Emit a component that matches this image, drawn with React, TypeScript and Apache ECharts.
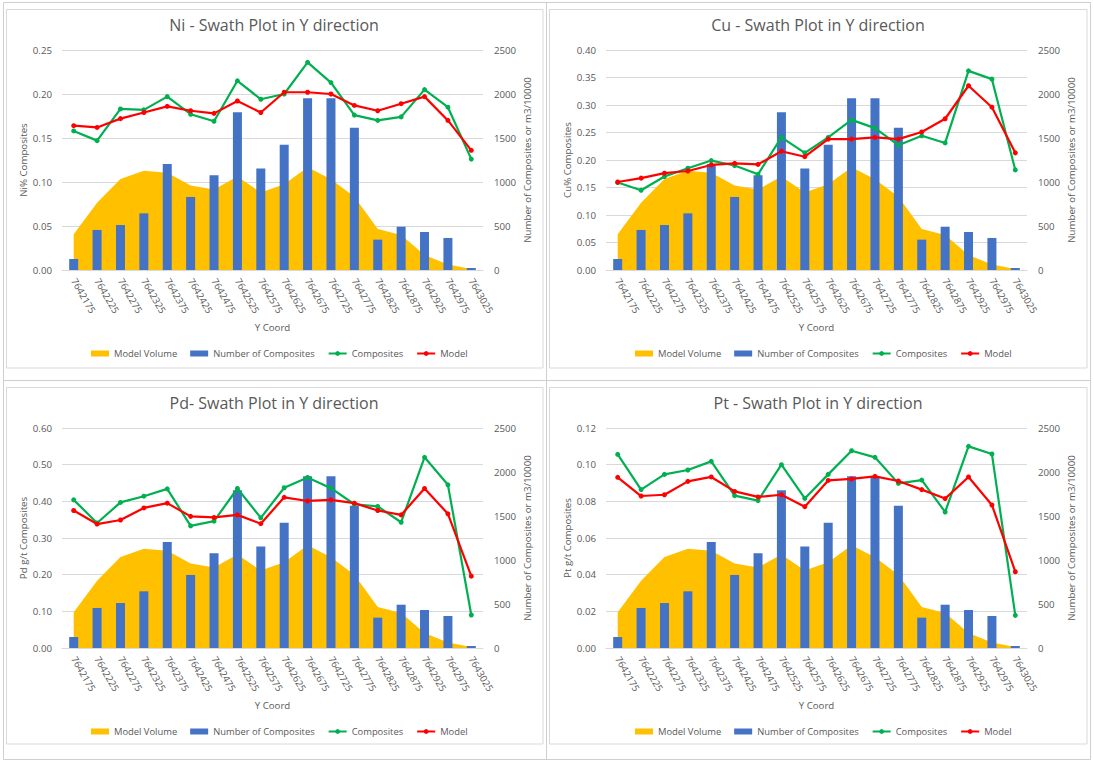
import React, { useEffect, useRef } from "react";
import * as echarts from "echarts";

const categories = [
  "7642175", "7642225", "7642275", "7642325", "7642375", "7642425",
  "7642475", "7642525", "7642575", "7642625", "7642675", "7642725",
  "7642775", "7642825", "7642875", "7642925", "7642975", "7643025",
];

const modelVolume = [405, 765, 1035, 1128, 1105, 960, 915, 1062, 880, 975, 1167, 1030, 833, 465, 398, 170, 63, 10];
const numComposites = [125, 455, 511, 644, 1205, 830, 1076, 1792, 1152, 1424, 1951, 1951, 1617, 345, 492, 432, 364, 23];

const niComposites = [0.158, 0.147, 0.183, 0.182, 0.197, 0.177, 0.169, 0.215, 0.194, 0.2, 0.236, 0.213, 0.176, 0.17, 0.174, 0.205, 0.185, 0.126];
const niModel = [0.164, 0.162, 0.172, 0.179, 0.186, 0.181, 0.178, 0.192, 0.179, 0.202, 0.202, 0.2, 0.187, 0.181, 0.189, 0.197, 0.17, 0.136];

const cuComposites = [0.159, 0.145, 0.17, 0.185, 0.199, 0.19, 0.174, 0.241, 0.213, 0.241, 0.273, 0.258, 0.227, 0.244, 0.231, 0.362, 0.347, 0.182];
const cuModel = [0.16, 0.167, 0.176, 0.18, 0.191, 0.194, 0.192, 0.216, 0.206, 0.238, 0.238, 0.241, 0.238, 0.251, 0.275, 0.335, 0.296, 0.213];

const pdComposites = [0.404, 0.341, 0.397, 0.414, 0.434, 0.333, 0.346, 0.435, 0.355, 0.437, 0.465, 0.436, 0.392, 0.386, 0.343, 0.52, 0.445, 0.09];
const pdModel = [0.375, 0.338, 0.349, 0.382, 0.395, 0.359, 0.356, 0.363, 0.339, 0.411, 0.401, 0.404, 0.395, 0.375, 0.363, 0.435, 0.366, 0.196];

const ptComposites = [0.1056, 0.0864, 0.0947, 0.0971, 0.1018, 0.0831, 0.0804, 0.1, 0.0816, 0.0947, 0.1076, 0.104, 0.0898, 0.0916, 0.0742, 0.11, 0.1058, 0.0178];
const ptModel = [0.0931, 0.0829, 0.0836, 0.0909, 0.0933, 0.0854, 0.0824, 0.0836, 0.0771, 0.0914, 0.0922, 0.0936, 0.0911, 0.0864, 0.0815, 0.0933, 0.078, 0.0416];

const panelTitles = [
  "Ni - Swath Plot in Y direction",
  "Cu - Swath Plot in Y direction",
  "Pd- Swath Plot in Y direction",
  "Pt - Swath Plot in Y direction",
];
const leftAxisNames = ["Ni% Composites", "Cu% Composites", "Pd g/t Composites", "Pt g/t Composites"];
const leftMax = [0.25, 0.4, 0.6, 0.12];
const leftInterval = [0.05, 0.05, 0.1, 0.02];
const rightMax = 2500;
const rightInterval = 500;
const compositesSets = [niComposites, cuComposites, pdComposites, ptComposites];
const modelSets = [niModel, cuModel, pdModel, ptModel];
const rightAxisName = "Number of Composites or m3/10000";
const xAxisName = "Y Coord";
const legendNames = ["Model Volume", "Number of Composites", "Composites", "Model"];

const FONT = "'Open Sans', 'Noto Sans', sans-serif";
const TXT = "#595959";
const GRIDLINE = "#D9D9D9";
const C_AREA = "#FFC000";
const C_BAR = "#4472C4";
const C_GREEN = "#00B050";
const C_RED = "#FF0000";

const offsets = [
  [0, 0],
  [544, 0],
  [0, 378],
  [544, 378],
];

export default function App() {
  const ref = useRef<HTMLDivElement>(null);

  useEffect(() => {
    if (!ref.current) return;
    const chart = echarts.init(ref.current, undefined, { renderer: "svg" });

    const titles: any[] = [];
    const legends: any[] = [];
    const grids: any[] = [];
    const xAxes: any[] = [];
    const yAxes: any[] = [];
    const series: any[] = [];

    offsets.forEach(([ox, oy], i) => {
      titles.push({
        text: panelTitles[i],
        left: ox + 274,
        top: oy + 17,
        textAlign: "center",
        padding: 0,
        textStyle: { fontFamily: FONT, fontSize: 16, fontWeight: "normal", color: TXT },
      });
      legends.push({
        left: ox + 91,
        top: oy + 349,
        padding: 0,
        orient: "horizontal",
        itemWidth: 18,
        itemHeight: 6,
        itemGap: 13,
        selectedMode: false,
        textStyle: { fontFamily: FONT, fontSize: 9.4, color: TXT },
        data: [
          { name: legendNames[0], icon: "rect", itemStyle: { color: C_AREA } },
          { name: legendNames[1], icon: "rect", itemStyle: { color: C_BAR } },
          { name: legendNames[2] },
          { name: legendNames[3] },
        ],
      });
      grids.push({
        left: ox + 62,
        top: oy + 50,
        width: 421,
        height: 220,
        containLabel: false,
        outerBoundsMode: "none",
      });
      xAxes.push({
        type: "category",
        gridIndex: i,
        data: categories,
        boundaryGap: true,
        name: xAxisName,
        nameLocation: "middle",
        nameGap: 52,
        nameTextStyle: { fontFamily: FONT, fontSize: 9.7, color: TXT },
        axisLine: { show: true, lineStyle: { color: GRIDLINE, width: 1 } },
        axisTick: { show: false },
        axisLabel: {
          interval: 0,
          rotate: -60,
          margin: 9,
          hideOverlap: false,
          fontFamily: FONT,
          fontSize: 9.7,
          color: TXT,
        },
        splitLine: { show: false },
      });
      yAxes.push({
        type: "value",
        gridIndex: i,
        position: "left",
        min: 0,
        max: leftMax[i],
        interval: leftInterval[i],
        name: leftAxisNames[i],
        nameLocation: "middle",
        nameRotate: 90,
        nameGap: 33,
        nameTextStyle: { fontFamily: FONT, fontSize: 9.7, color: TXT },
        axisLine: { show: false },
        axisTick: { show: false },
        axisLabel: {
          margin: 10,
          fontFamily: FONT,
          fontSize: 9.7,
          color: TXT,
          formatter: (v: number) => v.toFixed(2),
        },
        splitLine: { show: true, lineStyle: { color: GRIDLINE, width: 1 } },
      });
      yAxes.push({
        type: "value",
        gridIndex: i,
        position: "right",
        min: 0,
        max: rightMax,
        interval: rightInterval,
        name: rightAxisName,
        nameLocation: "middle",
        nameRotate: 90,
        nameGap: 39,
        nameTextStyle: { fontFamily: FONT, fontSize: 9.7, color: TXT },
        axisLine: { show: false },
        axisTick: { show: false },
        axisLabel: {
          margin: 11,
          fontFamily: FONT,
          fontSize: 9.7,
          color: TXT,
          formatter: (v: number) => String(Math.round(v)),
        },
        splitLine: { show: false },
      });

      series.push({
        name: legendNames[0],
        type: "line",
        xAxisIndex: i,
        yAxisIndex: 2 * i + 1,
        data: modelVolume,
        symbol: "none",
        showSymbol: false,
        itemStyle: { color: C_AREA },
        lineStyle: { width: 0, color: C_AREA },
        areaStyle: { color: C_AREA, opacity: 1 },
        z: 1,
        silent: true,
      });
      series.push({
        name: legendNames[1],
        type: "bar",
        xAxisIndex: i,
        yAxisIndex: 2 * i + 1,
        data: numComposites,
        barWidth: 9,
        itemStyle: { color: C_BAR },
        z: 2,
        silent: true,
      });
      series.push({
        name: legendNames[2],
        type: "line",
        xAxisIndex: i,
        yAxisIndex: 2 * i,
        data: compositesSets[i],
        symbol: "circle",
        symbolSize: 5,
        itemStyle: { color: C_GREEN },
        lineStyle: { width: 2.2, color: C_GREEN },
        z: 3,
        silent: true,
      });
      series.push({
        name: legendNames[3],
        type: "line",
        xAxisIndex: i,
        yAxisIndex: 2 * i,
        data: modelSets[i],
        symbol: "circle",
        symbolSize: 5,
        itemStyle: { color: C_RED },
        lineStyle: { width: 2.2, color: C_RED },
        z: 4,
        silent: true,
      });
    });

    const borderStroke = "#D9D9D9";
    const cellStroke = "#CFCFCF";
    const graphics: any[] = [
      // cell lines
      { type: "line", shape: { x1: 3.5, y1: 2.5, x2: 3.5, y2: 759.5 }, style: { stroke: cellStroke, lineWidth: 1 }, silent: true },
      { type: "line", shape: { x1: 546.5, y1: 2.5, x2: 546.5, y2: 759.5 }, style: { stroke: cellStroke, lineWidth: 1 }, silent: true },
      { type: "line", shape: { x1: 1090.5, y1: 2.5, x2: 1090.5, y2: 759.5 }, style: { stroke: cellStroke, lineWidth: 1 }, silent: true },
      { type: "line", shape: { x1: 3.5, y1: 2.5, x2: 1090.5, y2: 2.5 }, style: { stroke: cellStroke, lineWidth: 1 }, silent: true },
      { type: "line", shape: { x1: 3.5, y1: 380.5, x2: 1090.5, y2: 380.5 }, style: { stroke: cellStroke, lineWidth: 1 }, silent: true },
      { type: "line", shape: { x1: 3.5, y1: 759.5, x2: 1090.5, y2: 759.5 }, style: { stroke: cellStroke, lineWidth: 1 }, silent: true },
      // chart boxes
      { type: "rect", shape: { x: 6.5, y: 9.5, width: 536.5, height: 358.5 }, style: { fill: "none", stroke: borderStroke, lineWidth: 1 }, silent: true },
      { type: "rect", shape: { x: 549.5, y: 9.5, width: 537.5, height: 358.5 }, style: { fill: "none", stroke: borderStroke, lineWidth: 1 }, silent: true },
      { type: "rect", shape: { x: 6.5, y: 387.5, width: 536.5, height: 356.5 }, style: { fill: "none", stroke: borderStroke, lineWidth: 1 }, silent: true },
      { type: "rect", shape: { x: 549.5, y: 387.5, width: 537.5, height: 356.5 }, style: { fill: "none", stroke: borderStroke, lineWidth: 1 }, silent: true },
    ];

    chart.setOption({
      animation: false,
      backgroundColor: "#FFFFFF",
      textStyle: { fontFamily: FONT },
      title: titles,
      legend: legends,
      grid: grids,
      xAxis: xAxes,
      yAxis: yAxes,
      series,
      graphic: graphics,
    });

    return () => {
      chart.dispose();
    };
  }, []);

  return (
    <div
      ref={ref}
      style={{ position: "absolute", left: 0, top: 0, width: 1094, height: 762, background: "#fff" }}
    />
  );
}
